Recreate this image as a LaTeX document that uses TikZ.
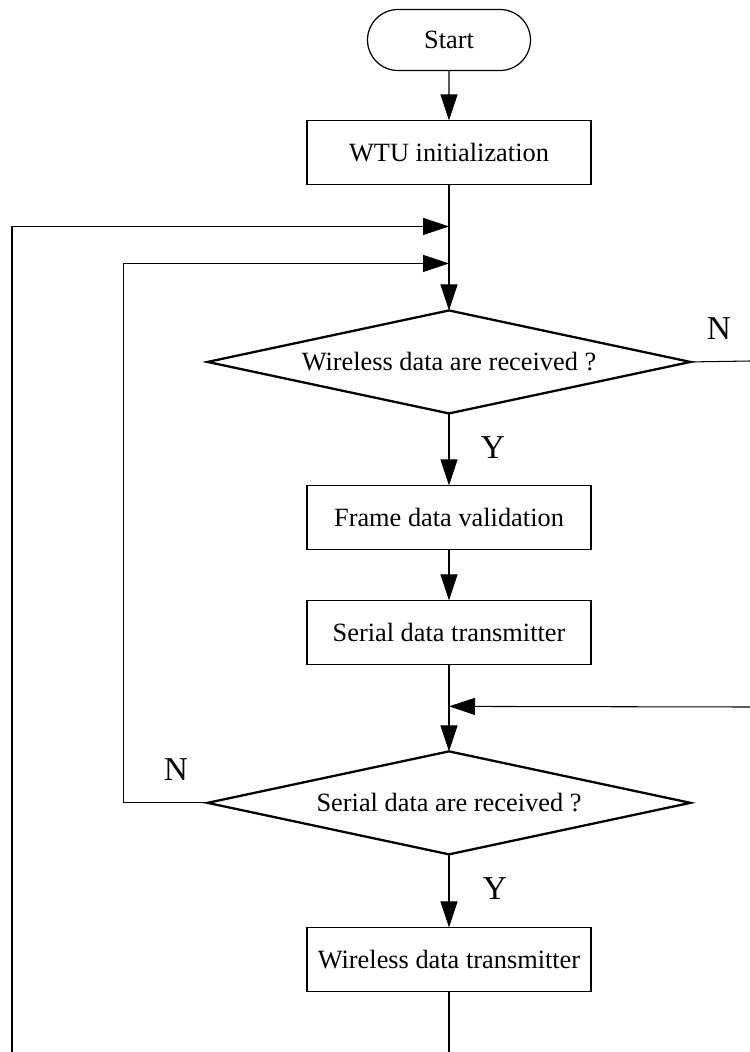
\documentclass[tikz,border=0pt]{standalone}
\usepackage{fontspec}
\setmainfont{Liberation Serif}
\usepackage{tikz}
\usetikzlibrary{shapes,arrows.meta,positioning,calc}

\begin{document}
\begin{tikzpicture}[x=0.02cm, y=-0.02cm, node distance=1cm,
    term/.style={draw, rounded rectangle, line width=0.7pt, minimum width=3.26cm, minimum height=1.22cm, inner sep=0pt, outer sep=0pt, font=\fontsize{15}{17}\selectfont},
    box/.style={draw, rectangle, line width=0.7pt, minimum width=5.68cm, minimum height=1.28cm, inner sep=0pt, outer sep=0pt, font=\fontsize{15}{17}\selectfont},
    decision/.style={draw, diamond, aspect=4.7, line width=1.3pt, minimum width=9.66cm, minimum height=2.06cm, inner sep=0pt, outer sep=0pt, font=\fontsize{15}{17}\selectfont},
    line/.style={line width=0.6pt},
    arr/.style={line, -{Triangle[length=0.52cm, width=0.34cm]}},
    lbl/.style={font=\fontsize{19}{22}\selectfont, inner sep=0pt}]
\useasboundingbox (0,0) rectangle (750,1052);

% main chain
\node[term] (start) at (449,40) {Start};
\node[box, below=1cm of start] (init) {WTU initialization};
\node[decision, below=2.52cm of init] (rxw) {Wireless data are received ?};
\node[box, below=1.44cm of rxw] (valid) {Frame data validation};
\node[box, below=1.02cm of valid] (sertx) {Serial data transmitter};
\node[decision, below=1.74cm of sertx] (rxs) {Serial data are received ?};
\node[box, below=1.46cm of rxs] (wltx) {Wireless data transmitter};

% junctions and free ends
\coordinate (j1) at ($(init.south)+(0,42)$);
\coordinate (j2) at ($(init.south)+(0,79)$);
\coordinate (j3) at ($(sertx.south)+(0,42)$);
\coordinate (bot) at (449,1052);
\coordinate (botl) at (12,1052);
\coordinate (rgt) at (750,361);
\coordinate (rgtin) at (750,707);

\draw[arr] (start) -- (init);
\draw[arr] (init) -- (rxw);
\draw[arr] (rxw) -- (valid);
\draw[arr] (valid) -- (sertx);
\draw[arr] (sertx) -- (rxs);
\draw[arr] (rxs) -- (wltx);
\draw[line] (wltx) -- (bot);

% loops
\draw[arr] (botl) |- (j1);
\draw[arr] (rxs.west) -- ++(-84,0) |- (j2);
\draw[line] (rxw.east) -- (rgt);
\draw[arr] (rgtin) -- (j3);

% labels
\node[lbl] (y1) at (493,448) {Y};
\node[lbl] (n1) at (719,329) {N};
\node[lbl] (n2) at (176,770) {N};
\node[lbl] (y2) at (495,889) {Y};
\end{tikzpicture}
\end{document}
